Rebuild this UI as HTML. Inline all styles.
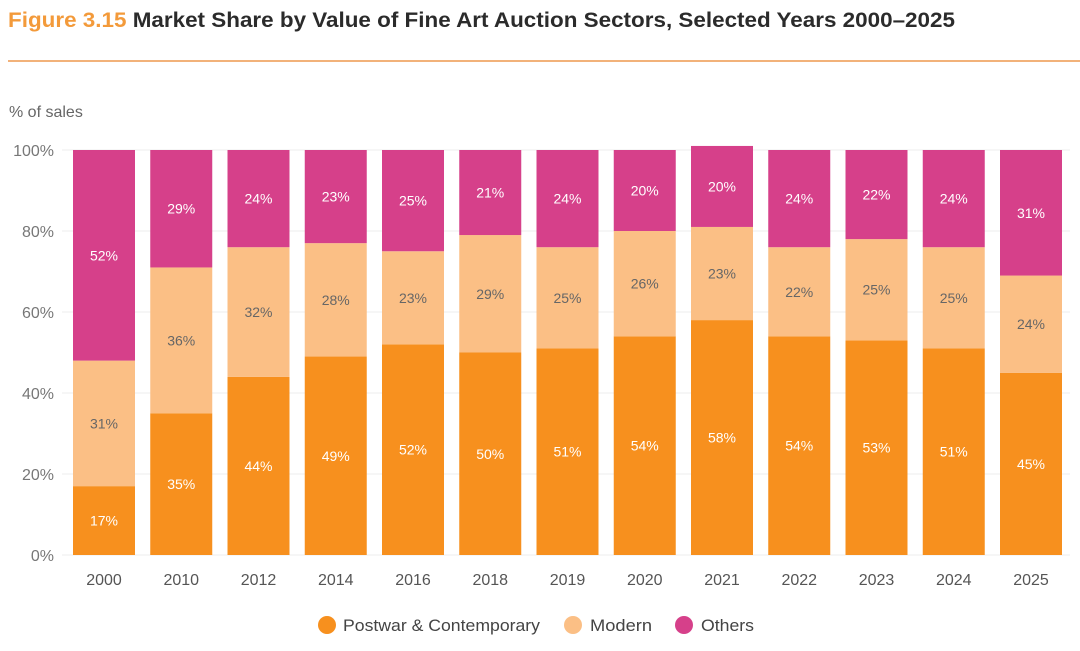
<!DOCTYPE html>
<html><head><meta charset="utf-8"><style>
body{margin:0;background:#fff;font-family:"Liberation Sans",sans-serif;}
svg text{font-family:"Liberation Sans",sans-serif;}
</style></head><body>
<svg id="chart" width="1080" height="646" xmlns="http://www.w3.org/2000/svg">
<text x="8" y="27" font-size="21" font-weight="bold" textLength="947" lengthAdjust="spacingAndGlyphs"><tspan fill="#F39A3A">Figure 3.15</tspan><tspan fill="#2b2b2b"> Market Share by Value of Fine Art Auction Sectors, Selected Years 2000–2025</tspan></text>
<line x1="8" y1="61" x2="1080" y2="61" stroke="#F2B27A" stroke-width="2"/>
<text x="9" y="117" font-size="16" fill="#666">% of sales</text>
<g id="grid"></g><g id="bars"></g><g id="xlabels"></g>
<g>
<circle cx="327" cy="625" r="9" fill="#F7901E"/>
<text x="343" y="631" font-size="17" fill="#444" textLength="197" lengthAdjust="spacingAndGlyphs">Postwar &amp; Contemporary</text>
<circle cx="573" cy="625" r="9" fill="#FBBF85"/>
<text x="590" y="631" font-size="17" fill="#444" textLength="62" lengthAdjust="spacingAndGlyphs">Modern</text>
<circle cx="684" cy="625" r="9" fill="#D6408A"/>
<text x="701" y="631" font-size="17" fill="#444" textLength="53" lengthAdjust="spacingAndGlyphs">Others</text>
</g>
</svg>
<script>
const years=["2000","2010","2012","2014","2016","2018","2019","2020","2021","2022","2023","2024","2025"];
const postwar=[17,35,44,49,52,50,51,54,58,54,53,51,45];
const modern=[31,36,32,28,23,29,25,26,23,22,25,25,24];
const others=[52,29,24,23,25,21,24,20,20,24,22,24,31];
const yTicks=[0,20,40,60,80,100];
const NS="http://www.w3.org/2000/svg";
const y0=555,pxPer=4.05,x0=104,step=77.25,bw=62;
const y=v=>y0-v*pxPer, xc=i=>x0+i*step;
function mk(tag,attrs,parent){const e=document.createElementNS(NS,tag);for(const k in attrs)e.setAttribute(k,attrs[k]);parent.appendChild(e);return e;}
const grid=document.getElementById('grid'),bars=document.getElementById('bars'),xl=document.getElementById('xlabels');
yTicks.forEach(t=>{
 const l=mk('line',{x1:62,x2:1070,y1:y(t),y2:y(t),stroke:'#ececec','stroke-width':1},grid);
 
 
 const tx=mk('text',{x:54,y:y(t)+6,'font-size':16,fill:'#777','text-anchor':'end'},grid);
 tx.textContent=t+'%';
 
 
});
const series=[[postwar,'#F7901E','#fff','postwar'],[modern,'#FBBF85','#666','modern'],[others,'#D6408A','#fff','others']];
years.forEach((yr,i)=>{
 let base=0;
 series.forEach(([arr,col,tc,nm])=>{
  const v=arr[i];
  const r=mk('rect',{x:xc(i)-bw/2,y:y(base+v),width:bw,height:v*pxPer,fill:col},bars);
  
  
  const t=mk('text',{x:xc(i),y:y(base+v/2)+5,'font-size':14,fill:tc,'text-anchor':'middle'},bars);
  t.textContent=v+'%';
  
  
  base+=v;
 });
 const t=mk('text',{x:xc(i),y:585,'font-size':16,fill:'#555','text-anchor':'middle'},xl);
 t.textContent=yr;
 
 
});
</script>
</body></html>
